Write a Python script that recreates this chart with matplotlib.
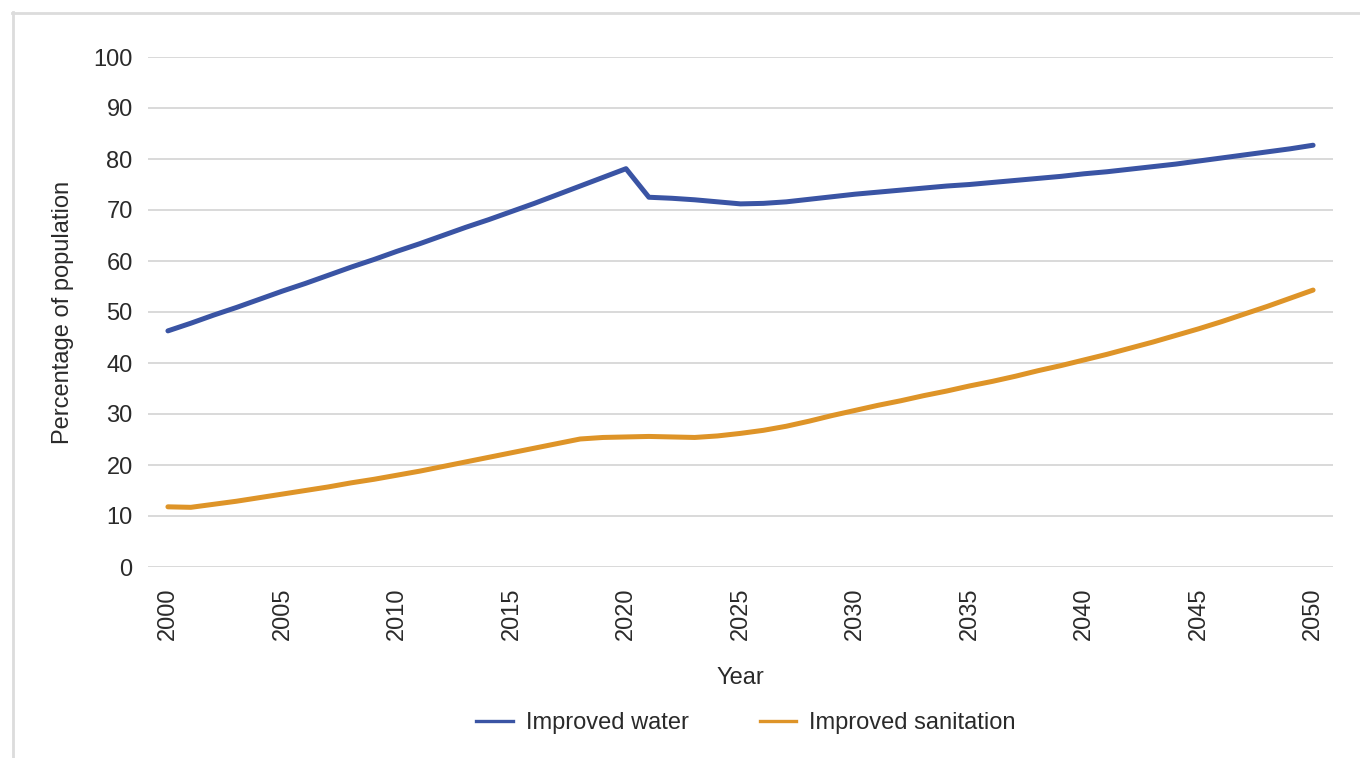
import matplotlib
matplotlib.use("Agg")
import matplotlib.pyplot as plt
from matplotlib.lines import Line2D

years = list(range(2000, 2051))

improved_water = [
    46.3, 47.8, 49.4, 50.9, 52.5, 54.1, 55.6, 57.2, 58.8, 60.3,
    61.9, 63.4, 65.0, 66.6, 68.1, 69.7, 71.3, 73.0, 74.7, 76.4,
    78.1, 72.5, 72.3, 72.0, 71.6, 71.2, 71.3, 71.6, 72.1, 72.6,
    73.1, 73.5, 73.9, 74.3, 74.7, 75.0, 75.4, 75.8, 76.2, 76.6,
    77.1, 77.5, 78.0, 78.5, 79.0, 79.6, 80.2, 80.8, 81.4, 82.0,
    82.7,
]

improved_sanitation = [
    11.8, 11.7, 12.3, 12.9, 13.6, 14.3, 15.0, 15.7, 16.5, 17.2,
    18.0, 18.8, 19.7, 20.6, 21.5, 22.4, 23.3, 24.2, 25.1, 25.4,
    25.5, 25.6, 25.5, 25.4, 25.7, 26.2, 26.8, 27.6, 28.6, 29.7,
    30.7, 31.7, 32.6, 33.6, 34.5, 35.5, 36.4, 37.4, 38.5, 39.5,
    40.6, 41.7, 42.9, 44.1, 45.4, 46.7, 48.1, 49.6, 51.1, 52.7,
    54.3,
]

x_ticks = list(range(2000, 2051, 5))
y_ticks = list(range(0, 101, 10))

series_names = ["Improved water", "Improved sanitation"]
colors = ["#3A54A4", "#DE9428"]

plt.rcParams["font.family"] = ["Liberation Sans", "DejaVu Sans"]
text_color = "#2a2a2a"
fs = 17

fig = plt.figure(figsize=(13.6, 7.58), dpi=100)
ax = fig.add_axes([148 / 1360, 1 - 567 / 758, (1333 - 148) / 1360, (567 - 57) / 758])

ax.plot(years, improved_water, color=colors[0], lw=3.6, solid_capstyle="round",
        solid_joinstyle="round", label=series_names[0])
ax.plot(years, improved_sanitation, color=colors[1], lw=3.6, solid_capstyle="round",
        solid_joinstyle="round", label=series_names[1])

ax.set_xlim(2000 - 0.87, 2050 + 0.87)
ax.set_ylim(0, 100)
ax.set_xticks(x_ticks)
ax.set_xticklabels([str(t) for t in x_ticks], rotation=90)
ax.set_yticks(y_ticks)
ax.tick_params(axis="both", length=0, labelsize=fs, colors=text_color)
ax.tick_params(axis="y", pad=11)
ax.tick_params(axis="x", pad=15)
for s in ax.spines.values():
    s.set_visible(False)
ax.grid(axis="y", color="#d9d9d9", lw=1.4)
ax.set_axisbelow(True)

ax.set_ylabel("Percentage of population", fontsize=fs, color=text_color, labelpad=14)
ax.set_xlabel("Year", fontsize=fs, color=text_color, labelpad=19)

handles = [Line2D([], [], color=c, lw=2.4) for c in colors]
fig.legend(handles, series_names, loc="center", bbox_to_anchor=(746 / 1360, 1 - 723 / 758),
           ncol=2, frameon=False, fontsize=fs, handlelength=1.55, handletextpad=0.55,
           columnspacing=3.0, labelcolor=text_color)

# figure border (top and left)
fig.add_artist(Line2D([12 / 1360, 1.0], [1 - 13 / 758, 1 - 13 / 758], color="#dcdcdc", lw=2,
                      transform=fig.transFigure))
fig.add_artist(Line2D([13 / 1360, 13 / 1360], [0, 1 - 12 / 758], color="#dcdcdc", lw=2,
                      transform=fig.transFigure))

fig.savefig("out.png", dpi=100)
